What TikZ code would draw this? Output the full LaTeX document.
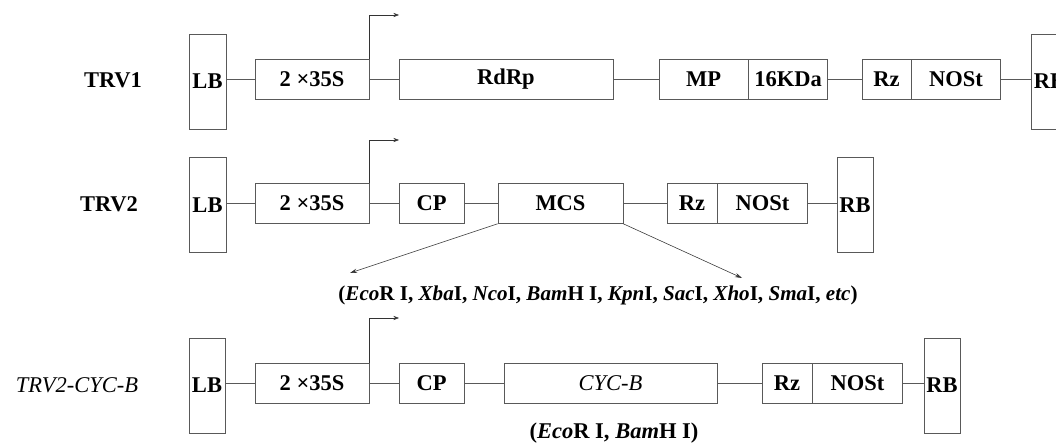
\documentclass[tikz,border=0pt]{standalone}
\usepackage{fontspec}
\setmainfont{Liberation Serif}
\usetikzlibrary{positioning,arrows.meta}
\def\pu{0.025cm}
\begin{document}
\begin{tikzpicture}[
    x=0.025cm, y=-0.025cm,
    font=\fontsize{16}{19}\selectfont\bfseries,
    part/.style={draw=black!65, rectangle, inner sep=0pt, minimum height=40*\pu},
    border/.style={draw=black!65, rectangle, inner sep=0pt, minimum width=37*\pu, minimum height=95*\pu},
    link/.style={draw=black!65},
    prom/.style={draw=black!80, -{Stealth[length=4pt,width=3pt]}},
    site/.style={draw=black!80, -{Stealth[length=5pt,width=3pt]}}
]
\useasboundingbox (0,0) rectangle (1056,445);
\clip (0,0) rectangle (1056,445);

% TRV1
\node (t1) at (113,80) {TRV1};
\node[border] (lb1) at (207.5,81.5) {LB};
\node[part, minimum width=114*\pu] (s1) at (312,79) {2 ×35S};
\node[part, minimum width=214*\pu] (rd1) at (506,79) {RdRp};
\node[part, minimum width=89*\pu] (mp1) at (703.5,79) {MP};
\node[part, minimum width=79*\pu, right=0pt of mp1] (kd1) {16KDa};
\node[part, minimum width=49*\pu] (rz1) at (886.5,79) {Rz};
\node[part, minimum width=89*\pu, right=0pt of rz1] (no1) {NOSt};
\node[border] (rb1) at (1049.5,81.5) {RB};
\coordinate (p1) at (399,15);

\draw[link] (lb1.east |- s1.west) -- (s1.west);
\foreach \a/\b in {s1/rd1, rd1/mp1, kd1/rz1}
  \draw[link] (\a) -- (\b);
\draw[link] (no1.east) -- (no1.east -| rb1.west);
\draw[prom] (s1.north east) |- (p1);

% TRV2
\node (t2) at (109,204) {TRV2};
\node[border] (lb2) at (207.5,205) {LB};
\node[part, minimum width=114*\pu] (s2) at (312,203.5) {2 ×35S};
\node[part, minimum width=65*\pu] (cp2) at (431.5,203.5) {CP};
\node[part, minimum width=125*\pu] (mcs) at (560.5,203.5) {MCS};
\node[part, minimum width=50*\pu] (rz2) at (692,203.5) {Rz};
\node[part, minimum width=90*\pu, right=0pt of rz2] (no2) {NOSt};
\node[border, minimum width=36*\pu] (rb2) at (855,205) {RB};
\coordinate (p2) at (399,140);
\coordinate (m1) at (350,273);
\coordinate (m2) at (742,278);

\draw[link] (lb2.east |- s2.west) -- (s2.west);
\foreach \a/\b in {s2/cp2, cp2/mcs, mcs/rz2}
  \draw[link] (\a) -- (\b);
\draw[link] (no2.east) -- (no2.east -| rb2.west);
\draw[prom] (s2.north east) |- (p2);
\draw[site] (mcs.south west) -- (m1);
\draw[site] (mcs.south east) -- (m2);

\node[font=\fontsize{15}{18}\selectfont\bfseries] (sites2) at (598,295) {(\textit{Eco}R I, \textit{Xba}I, \textit{Nco}I, \textit{Bam}H I, \textit{Kpn}I, \textit{Sac}I, \textit{Xho}I, \textit{Sma}I, \textit{etc})};

% TRV2-CYC-B
\node (t3) at (77,385) {\mdseries\itshape TRV2-CYC-B};
\node[border, minimum width=36*\pu] (lb3) at (207,385.5) {LB};
\node[part, minimum width=114*\pu] (s3) at (312,383) {2 ×35S};
\node[part, minimum width=65*\pu] (cp3) at (431.5,383) {CP};
\node[part, minimum width=213*\pu] (cyc) at (610.5,383) {\mdseries\itshape CYC-B};
\node[part, minimum width=50*\pu] (rz3) at (787,383) {Rz};
\node[part, minimum width=90*\pu, right=0pt of rz3] (no3) {NOSt};
\node[border, minimum width=36*\pu] (rb3) at (942,385.5) {RB};
\coordinate (p3) at (399,318);

\draw[link] (lb3.east |- s3.west) -- (s3.west);
\foreach \a/\b in {s3/cp3, cp3/cyc, cyc/rz3}
  \draw[link] (\a) -- (\b);
\draw[link] (no3.east) -- (no3.east -| rb3.west);
\draw[prom] (s3.north east) |- (p3);

\node (sites3) at (614,433) {(\textit{Eco}R I, \textit{Bam}H I)};

\end{tikzpicture}
\end{document}
